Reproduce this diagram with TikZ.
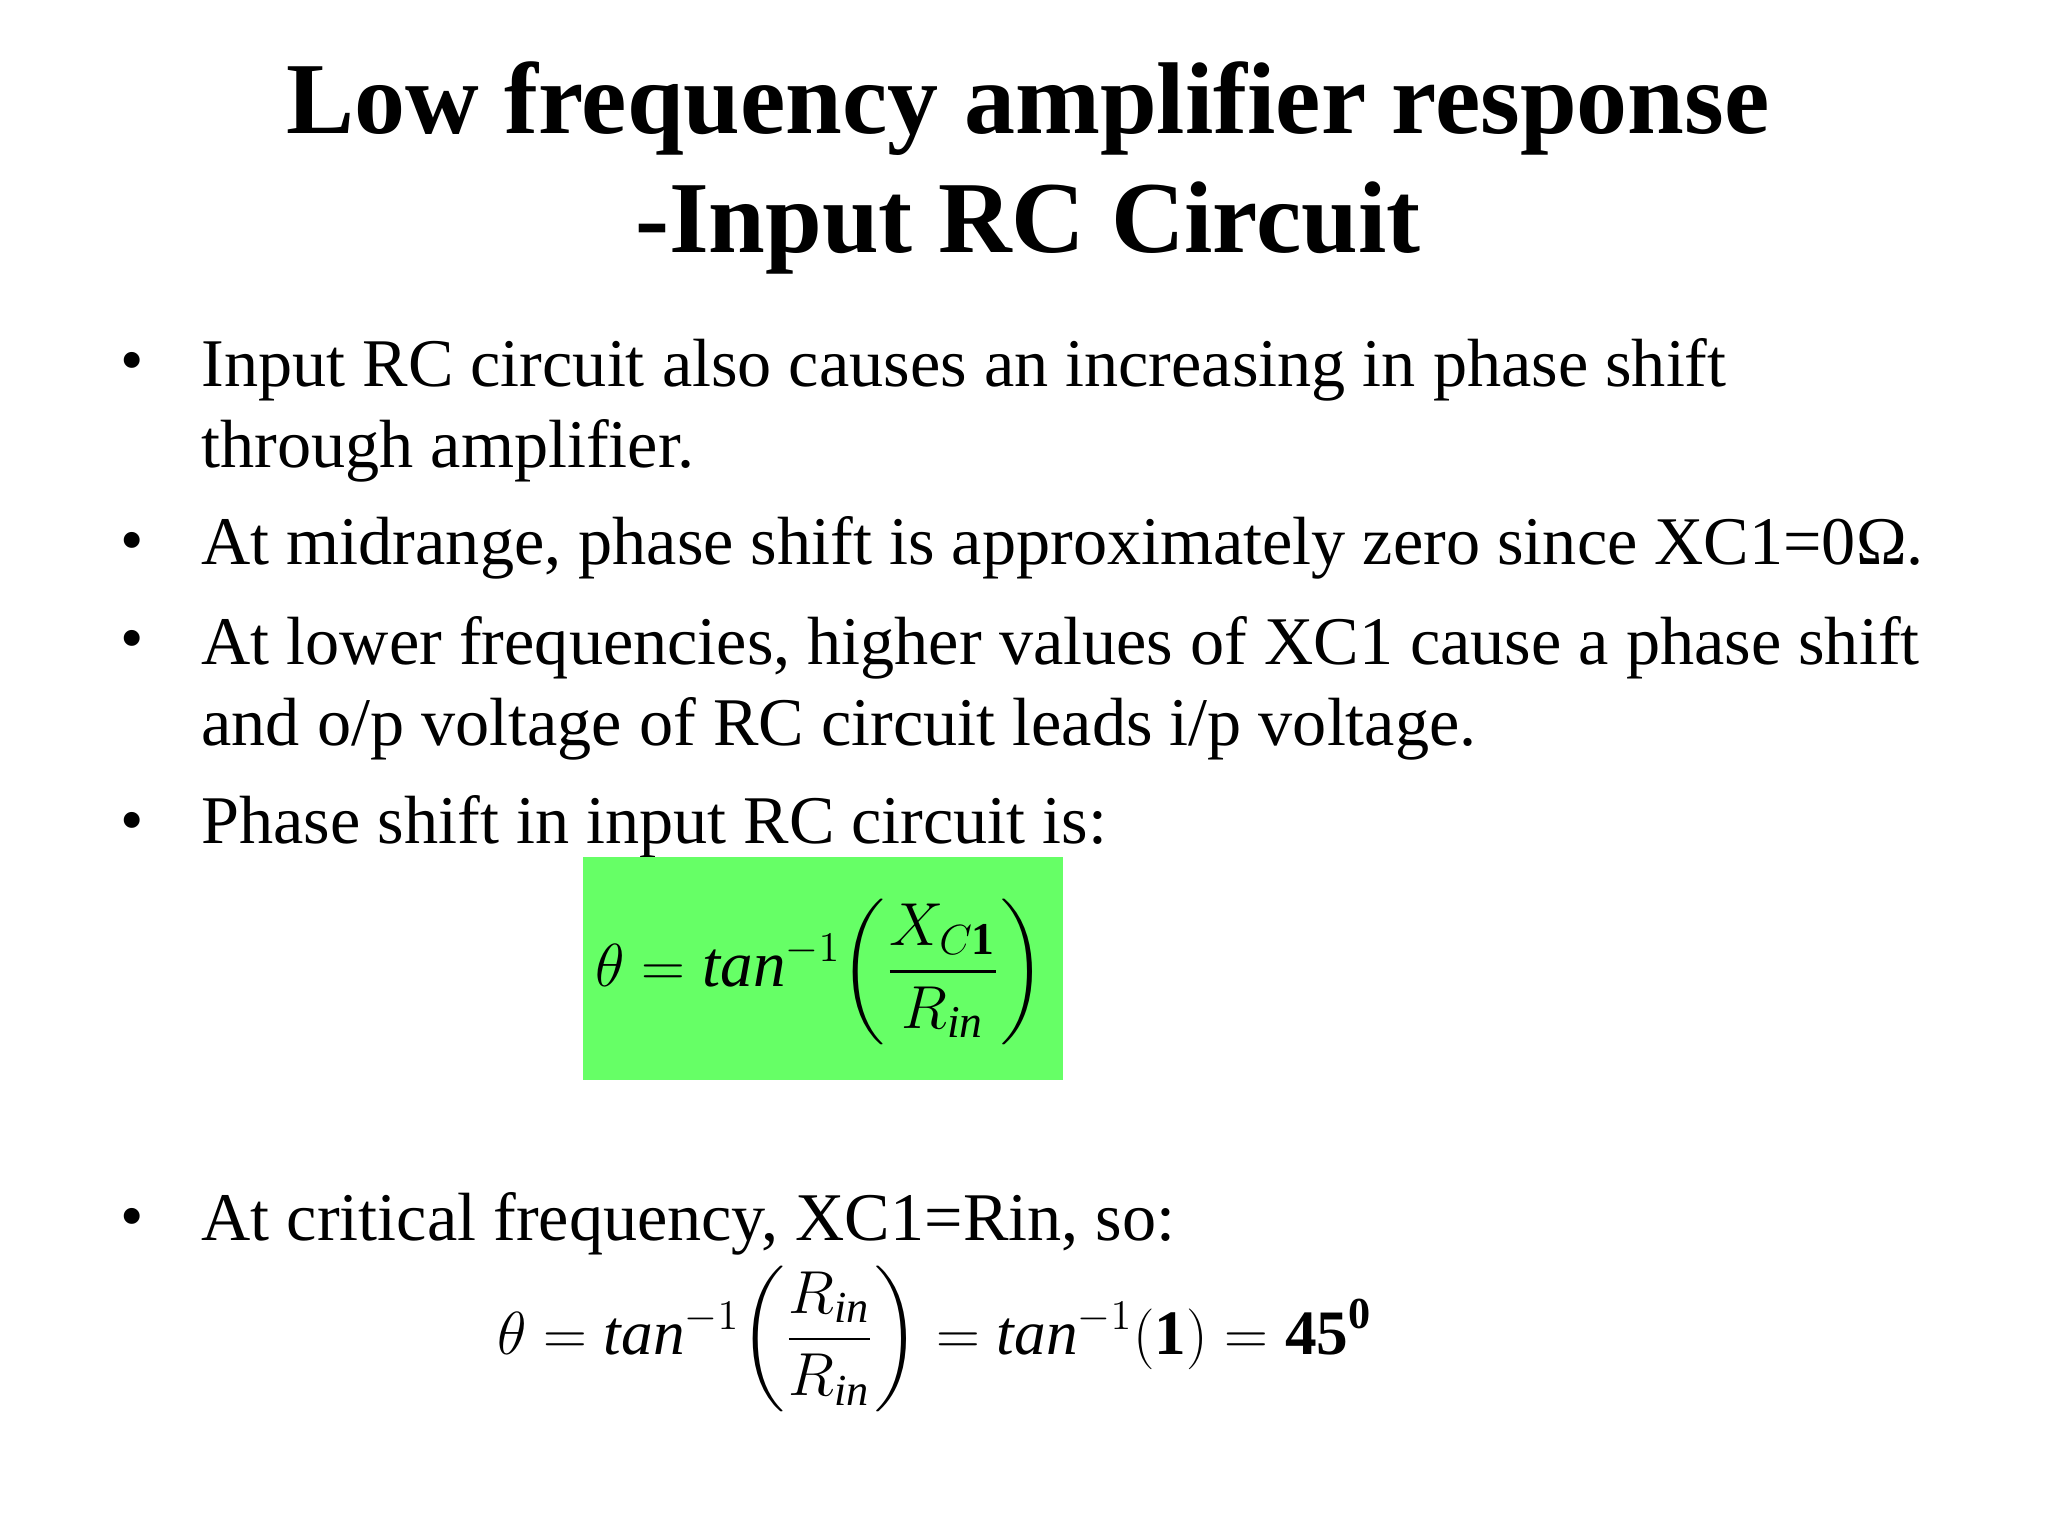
\documentclass[tikz,border=0pt]{standalone}
\usepackage{amsmath}
\usepackage{fontspec}
\setmainfont{Liberation Serif}
\begin{document}
\begin{tikzpicture}[x=0.013128cm,y=-0.013128cm,
  body/.style={anchor=west,inner sep=0pt,font=\fontsize{19.4}{23.1}\selectfont,align=left},
  bul/.style={anchor=center,inner sep=0pt,font=\fontsize{19}{23}\selectfont}]
\useasboundingbox[fill=white] (0,0) rectangle (1560,1170);
\node[font=\fontsize{29}{34}\bfseries\selectfont,align=center,inner sep=0pt] (title) at (783,128) {Low frequency amplifier response\\-Input RC Circuit};
\node[bul] (b1) at (101,280) {•};
\node[body,anchor=north west] (t1) at (153,257) {Input RC circuit also causes an increasing in phase shift\\through amplifier.};
\node[bul] (b2) at (101,417) {•};
\node[body] (t2) at (153,417) {At midrange, phase shift is approximately zero since XC1=0Ω.};
\node[bul] (b3) at (101,492) {•};
\node[body,anchor=north west] (t3) at (153,469) {At lower frequencies, higher values of XC1 cause a phase shift\\and o/p voltage of RC circuit leads i/p voltage.};
\node[bul] (b4) at (101,630) {•};
\node[body] (t4) at (153,630) {Phase shift in input RC circuit is:};
\fill[fill={rgb,255:red,102;green,255;blue,102}] (444,653) rectangle (810,823);
\node[inner sep=0pt,font=\fontsize{18.5}{23}\selectfont] (f1) at (625,740) {$\displaystyle \theta=\textit{tan}^{-1}\!\left(\frac{X_{C\mathbf{1}}}{R_{\mathit{in}}}\right)$};
\node[bul] (b5) at (101,932) {•};
\node[body] (t5) at (153,932) {At critical frequency, XC1=Rin, so:};
\node[inner sep=0pt,font=\fontsize{18}{21}\selectfont] (f2) at (712,1020) {$\displaystyle \theta=\textit{tan}^{-1}\!\left(\frac{R_{\mathit{in}}}{R_{\mathit{in}}}\right)=\textit{tan}^{-1}(\mathbf{1})=\mathbf{45}^{\mathbf{0}}$};
\end{tikzpicture}
\end{document}
